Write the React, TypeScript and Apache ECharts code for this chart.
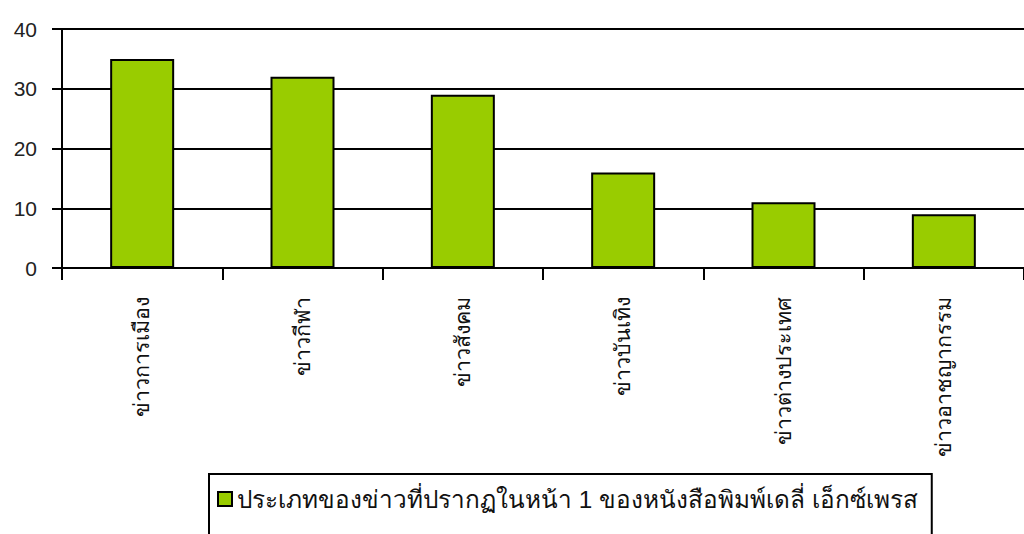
import React, { useEffect, useRef } from "react";
import * as echarts from "echarts";

const categories = [
  "ข่าวการเมือง",
  "ข่าวกีฬา",
  "ข่าวสังคม",
  "ข่าวบันเทิง",
  "ข่าวต่างประเทศ",
  "ข่าวอาชญากรรม",
];
const values = [35, 32, 29, 16, 11, 9];
const seriesName = "ประเภทของข่าวที่ปรากฏในหน้า 1 ของหนังสือพิมพ์เดลี่ เอ็กซ์เพรส";
const yTicks = { min: 0, max: 40, interval: 10 };

const FONT = "'Liberation Sans', Arial, 'Noto Sans', sans-serif";

export default function App() {
  const ref = useRef<HTMLDivElement>(null);
  useEffect(() => {
    document.body.style.margin = "0";
    const chart = echarts.init(ref.current!, null, { renderer: "svg" });
    chart.setOption({
      animation: false,
      backgroundColor: "#ffffff",
      textStyle: { fontFamily: FONT },
      grid: { left: 62, right: -8, top: 29, bottom: 266 },
      legend: {
        data: [seriesName],
        left: 209,
        top: 474,
        orient: "horizontal",
        icon: "rect",
        itemWidth: 14,
        itemHeight: 14,
        itemGap: 6,
        padding: [13, 14, 40, 8],
        borderColor: "#000",
        borderWidth: 2,
        itemStyle: { borderColor: "#000", borderWidth: 2 },
        textStyle: { fontSize: 24.3, color: "#111", fontFamily: FONT },
      },
      xAxis: {
        type: "category",
        data: categories,
        axisLine: { lineStyle: { color: "#000", width: 2 } },
        axisTick: { show: true, length: 12, lineStyle: { color: "#000", width: 2 } },
        axisLabel: {
          rotate: 90,
          margin: 29,
          fontSize: 21.5,
          color: "#111",
          fontFamily: FONT,
        },
      },
      yAxis: {
        type: "value",
        min: yTicks.min,
        max: yTicks.max,
        interval: yTicks.interval,
        axisLine: { show: true, lineStyle: { color: "#000", width: 2 } },
        axisTick: { show: true, length: 10, lineStyle: { color: "#000", width: 2 } },
        axisLabel: { fontSize: 21, color: "#222", margin: 25, fontFamily: FONT },
        splitLine: { show: true, lineStyle: { color: "#000", width: 2 } },
      },
      series: [
        {
          name: seriesName,
          type: "bar",
          data: values,
          barWidth: 64,
          itemStyle: { color: "#99cc00", borderColor: "#000", borderWidth: 2 },
        },
      ],
    });
    return () => chart.dispose();
  }, []);
  return (
    <div
      ref={ref}
      style={{ position: "absolute", left: 0, top: 0, width: 1024, height: 534 }}
    />
  );
}
